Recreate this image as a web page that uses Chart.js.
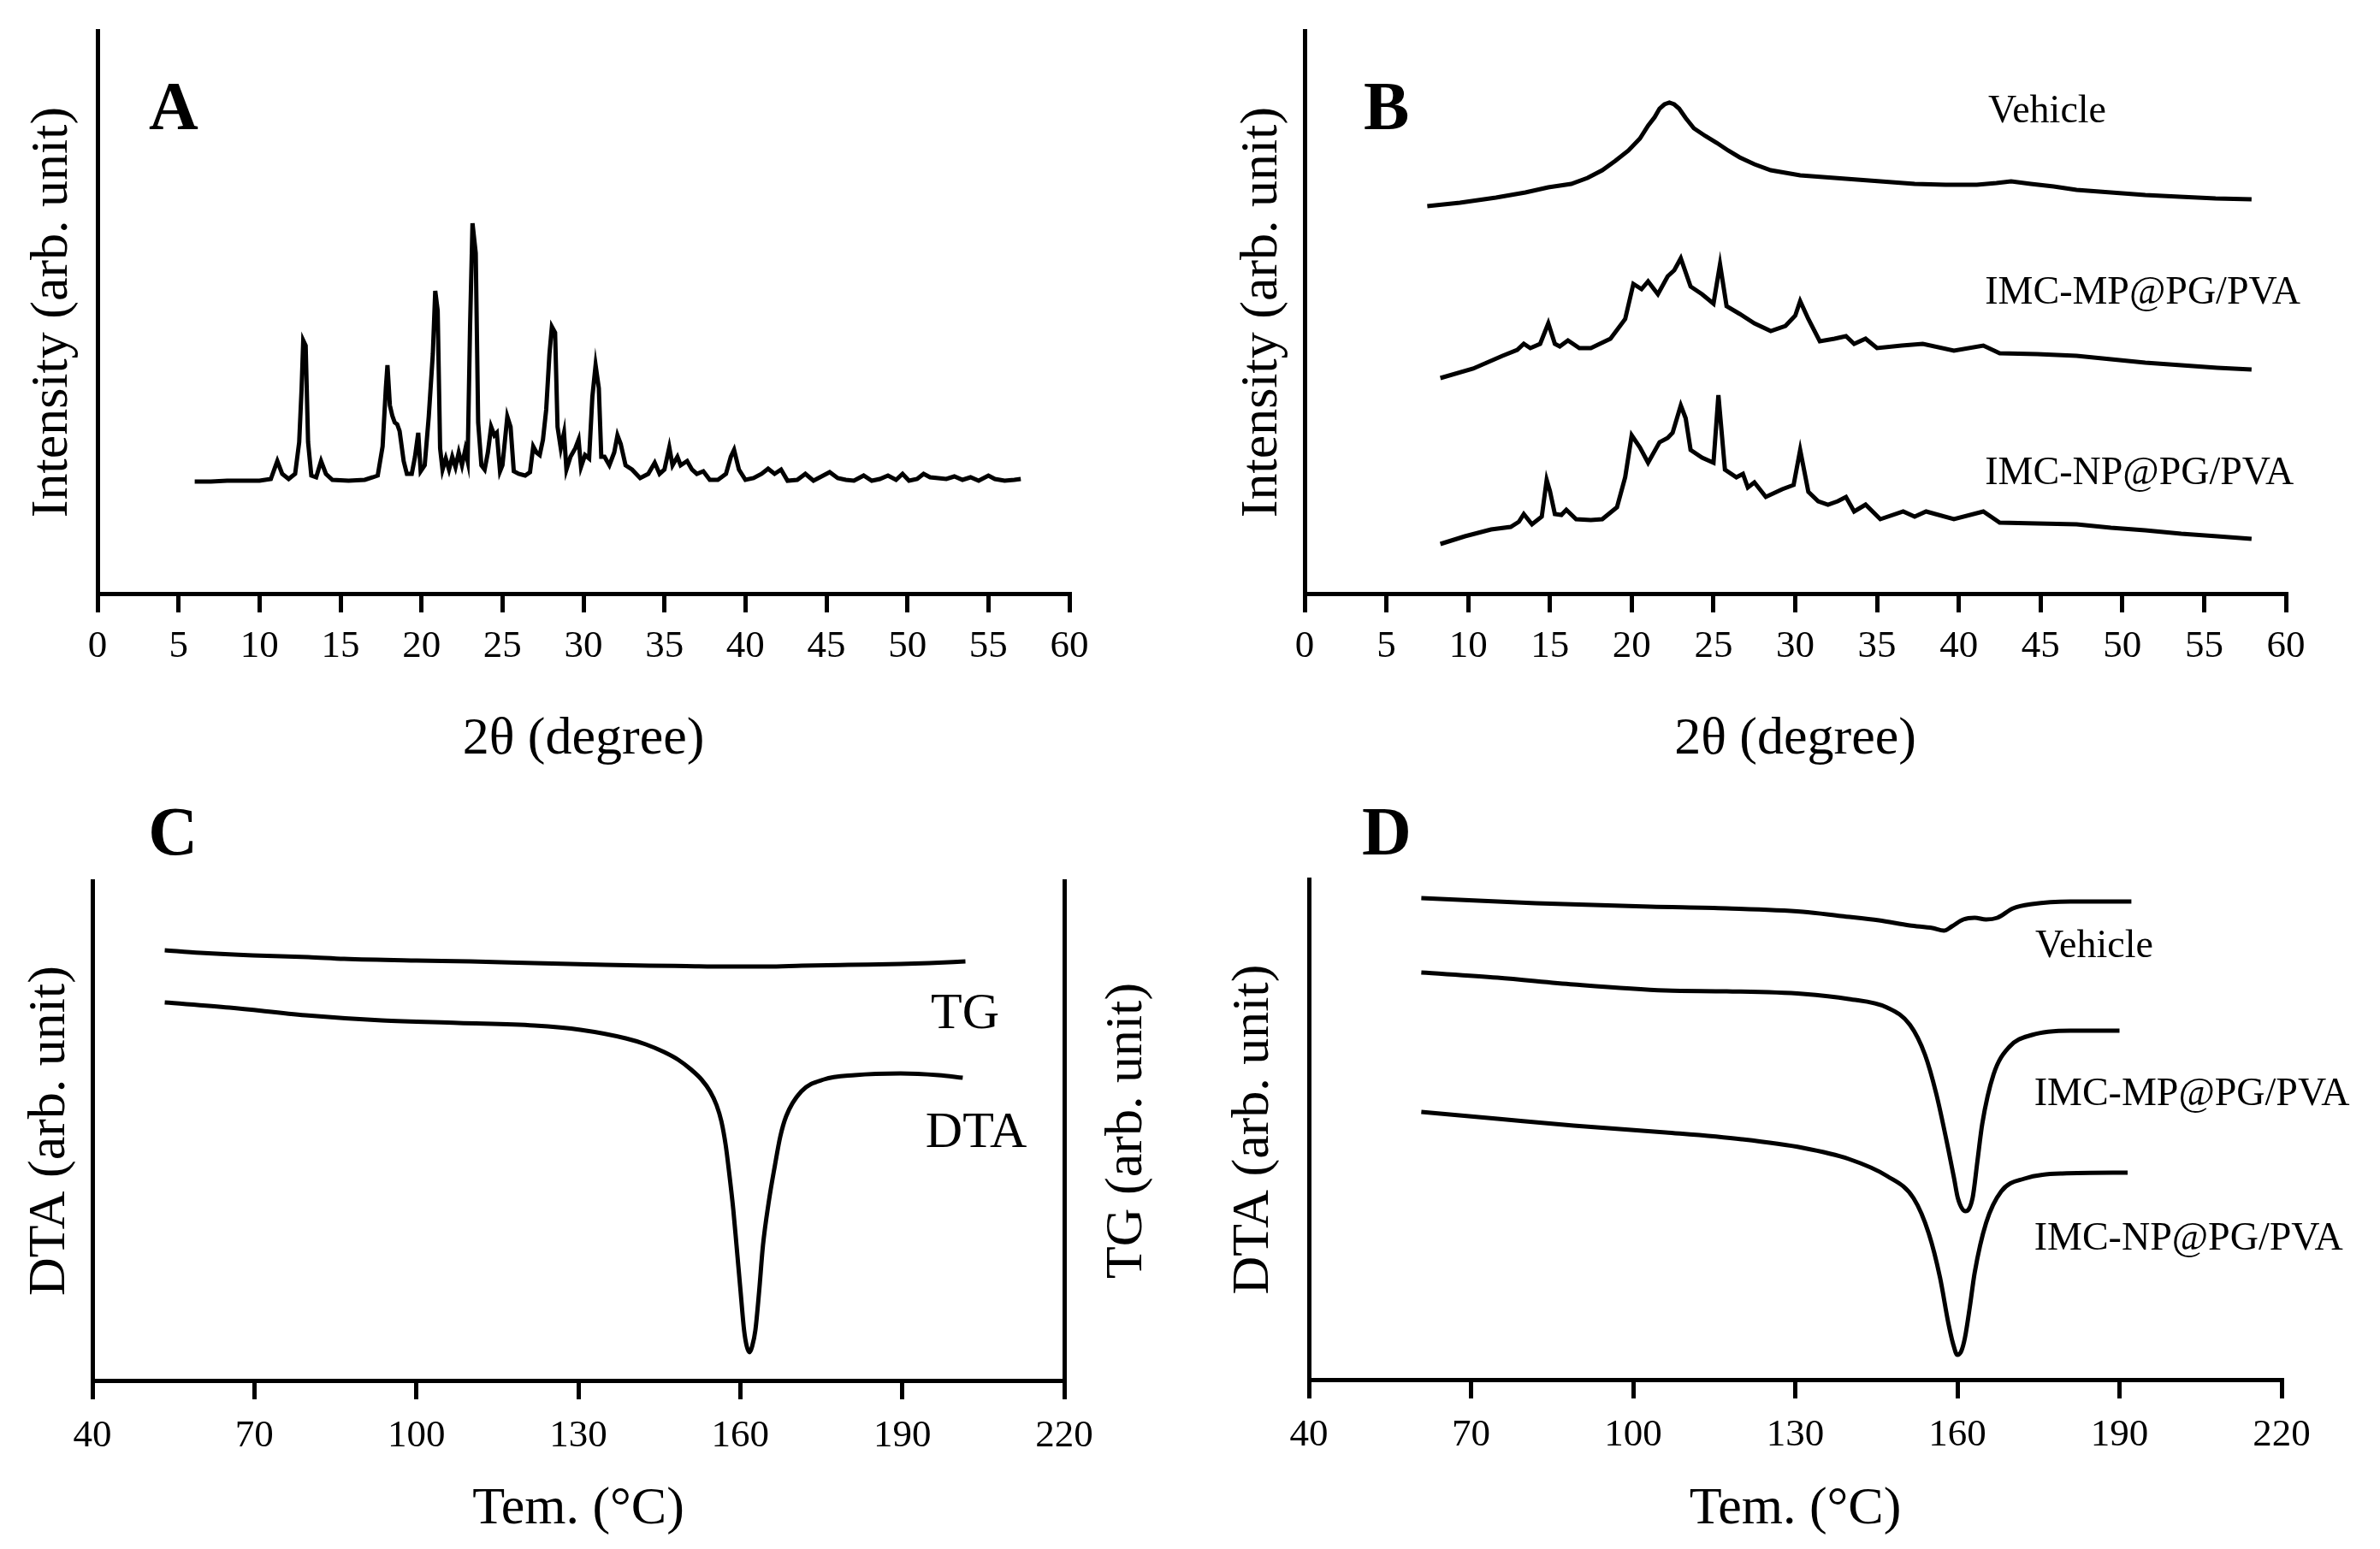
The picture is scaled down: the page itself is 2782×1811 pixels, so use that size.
<!DOCTYPE html>
<html>
<head>
<meta charset="utf-8">
<script src="https://cdn.jsdelivr.net/npm/chart.js@4.4.1/dist/chart.umd.min.js"></script>
<style>
  html, body { margin: 0; padding: 0; background: #fff; }
  body { width: 2782px; height: 1811px; position: relative; overflow: hidden; }
  .panel { position: absolute; width: 1391px; }
  #boxA { left: 0; top: 0; height: 905px; }
  #boxB { left: 1391px; top: 0; height: 905px; }
  #boxC { left: 0; top: 905px; height: 906px; }
  #boxD { left: 1391px; top: 905px; height: 906px; }
</style>
</head>
<body>
<div class="panel" id="boxA"><canvas id="chartA"></canvas></div>
<div class="panel" id="boxB"><canvas id="chartB"></canvas></div>
<div class="panel" id="boxC"><canvas id="chartC"></canvas></div>
<div class="panel" id="boxD"><canvas id="chartD"></canvas></div>
<script>
// ===== DATA =====
// A: XRD of IMC raw powder (2θ in degrees, intensity in arb. units)
const aAngle = [
  6.0, 7.0, 8.0, 9.0, 10.0, 10.7, 11.1, 11.4, 11.8, 12.2,
  12.45, 12.6, 12.7, 12.85, 13.0, 13.2, 13.5, 13.8, 14.1, 14.5,
  15.5, 16.5, 17.0, 17.3, 17.6, 17.8, 17.9, 18.05, 18.2, 18.35,
  18.5, 18.65, 18.9, 19.1, 19.4, 19.6, 19.8, 19.95, 20.2, 20.45,
  20.7, 20.85, 21.0, 21.15, 21.3, 21.5, 21.7, 21.9, 22.1, 22.3,
  22.5, 22.7, 22.85, 23.0, 23.15, 23.35, 23.5, 23.7, 23.9, 24.1,
  24.3, 24.5, 24.65, 24.85, 25.0, 25.3, 25.5, 25.7, 26.0, 26.4,
  26.7, 26.9, 27.1, 27.3, 27.5, 27.7, 27.9, 28.05, 28.25, 28.4,
  28.6, 28.8, 28.95, 29.2, 29.5, 29.7, 29.85, 30.1, 30.35, 30.55,
  30.75, 30.95, 31.1, 31.3, 31.6, 31.9, 32.1, 32.3, 32.6, 33.0,
  33.5, 34.0, 34.4, 34.7, 35.0, 35.3, 35.5, 35.8, 36.0, 36.4,
  36.7, 37.0, 37.4, 37.8, 38.3, 38.8, 39.1, 39.3, 39.6, 40.0,
  40.5, 41.0, 41.4, 41.8, 42.2, 42.6, 43.2, 43.7, 44.2, 44.8,
  45.2, 45.7, 46.2, 46.7, 47.3, 47.8, 48.3, 48.8, 49.3, 49.7,
  50.1, 50.6, 51.0, 51.4, 51.9, 52.4, 52.9, 53.4, 53.9, 54.4,
  55.0, 55.4, 56.0, 56.6, 57.0
];
const aIntensity = [
  131, 131, 132, 132, 132, 134, 155, 140, 134, 140,
  177, 240, 296, 290, 177, 138, 136, 155, 140, 133,
  132, 133, 136, 138, 172, 240, 267, 220, 208, 200,
  198, 190, 155, 140, 140, 160, 188, 143, 150, 207,
  280, 354, 331, 170, 145, 158, 145, 160, 148, 165,
  150, 168, 155, 312, 433, 398, 200, 150, 145, 165,
  195, 185, 188, 143, 150, 207, 195, 143, 140, 138,
  142, 172, 165, 162, 180, 215, 280, 312, 305, 195,
  170, 188, 145, 160, 170, 180, 148, 162, 158, 230,
  267, 240, 160, 160, 150, 165, 185, 175, 150, 145,
  135, 140, 153, 140, 145, 171, 150, 160, 150, 155,
  145, 140, 143, 133, 133, 140, 160, 168, 145, 133,
  135, 140, 146, 140, 145, 132, 133, 140, 132, 138,
  142, 135, 133, 132, 138, 132, 134, 138, 133, 140,
  132, 134, 140, 136, 135, 134, 137, 133, 136, 132,
  138, 134, 132, 133, 134
];

// B: XRD of vehicle and formulations
const bVehicleAngle = [7.5, 9.5, 11.7, 13.5, 14.9, 16.3, 17.3, 18.2, 19.0, 19.8, 20.5, 21.0, 21.4, 21.7, 22.0,
  22.3, 22.6, 22.9, 23.3, 23.8, 24.5, 25.2, 25.9, 26.6, 27.5, 28.5, 29.4, 30.3, 31.7, 33.1, 35.2, 37.3,
  39.2, 41.1, 42.3, 43.2, 44.4, 45.8, 47.2, 49.3, 51.4, 53.5, 55.7, 57.9];
const bVehicle = [453, 457, 463, 469, 475, 479, 486, 495, 506, 518, 532, 547, 557, 567, 572,
  574, 572, 567, 556, 544, 535, 527, 518, 510, 502, 495, 492, 489, 487, 485, 482, 479,
  478, 478, 480, 482, 479, 476, 472, 469, 466, 464, 462, 461];

const bMPAngle = [8.3, 10.3, 12.1, 13.0, 13.4, 13.8, 14.4, 14.9, 15.3, 15.6, 16.1, 16.8, 17.5, 18.7, 19.6,
  20.1, 20.6, 21.0, 21.6, 22.2, 22.6, 23.0, 23.6, 24.3, 25.0, 25.4, 25.8, 26.6, 27.5, 28.5,
  29.4, 30.0, 30.3, 30.8, 31.5, 32.4, 33.1, 33.6, 34.3, 35.0, 36.5, 37.8, 39.7, 41.5, 42.5,
  44.8, 47.2, 49.3, 51.4, 53.6, 55.8, 57.9];
const bMP = [252, 263, 278, 285, 292, 287, 292, 316, 292, 289, 296, 287, 287, 298, 321,
  362, 356, 365, 350, 371, 378, 392, 359, 350, 339, 385, 336, 327, 316, 307,
  313, 325, 342, 321, 295, 298, 301, 292, 298, 287, 290, 292, 284, 290, 281,
  280, 278, 274, 270, 267, 264, 262];

const bNPAngle = [8.3, 9.8, 11.4, 12.6, 13.1, 13.4, 13.9, 14.5, 14.8, 15.0,
  15.3, 15.7, 16.0, 16.6, 17.5, 18.2, 19.1, 19.6, 20.0, 20.5,
  21.0, 21.7, 22.2, 22.5, 23.0, 23.3, 23.6, 24.3, 25.0, 25.3,
  25.7, 26.4, 26.8, 27.1, 27.5, 28.2, 29.2, 29.9, 30.3, 30.8,
  31.4, 32.0, 32.6, 33.1, 33.6, 34.3, 35.2, 36.6, 37.3, 38.0,
  39.7, 41.5, 42.5, 44.8, 47.2, 49.3, 51.4, 53.6, 55.8, 57.9];
const bNP = [58, 67, 75, 78, 84, 93, 81, 90, 133, 120,
  93, 92, 98, 87, 86, 87, 101, 136, 185, 171,
  153, 177, 182, 188, 220, 205, 168, 159, 153, 232,
  145, 136, 140, 124, 130, 113, 122, 127, 168, 119,
  108, 104, 108, 113, 96, 104, 87, 96, 90, 96,
  87, 96, 83, 82, 81, 77, 74, 70, 67, 64];

// C: TG / DTA of IMC
const cTGTemp = [53.4, 60, 69.7, 80, 86.6, 100, 110, 121.9, 135, 143.1, 150, 157.2, 165, 171.4, 180, 189.7, 195, 201.7];
const cTG = [503, 500, 497, 495, 493, 491, 490, 488, 486, 485, 484.5, 484, 484, 485, 486, 487, 488, 490];
const cDTATemp = [53.4, 65.4, 79.5, 93.6, 107.8, 121.9, 130.4, 138.8, 142.5, 145.9,
  148.5, 150.8, 152.8, 154.4, 155.6, 156.5, 157.3, 157.9, 158.7, 159.3,
  160.0, 160.7, 161.2, 161.7, 162.2, 162.8, 163.5, 164.2, 165.3, 166.4,
  167.4, 168.5, 171.3, 175.5, 181.2, 189.7, 196.7, 201.2];
const cDTA = [442, 436, 427, 421, 418, 415, 410, 400, 393, 384,
  375, 364, 352, 338, 322, 303, 275, 245, 200, 158,
  108, 59, 40, 33, 40, 59, 105, 158, 210, 251,
  285, 309, 338, 352, 357, 359, 357, 354];

// D: DTA of vehicle and formulations
const dVehicleTemp = [60.8, 82.0, 103.2, 117.3, 131.4, 138.5, 145.5, 151.2, 155.4, 157.5, 159.0, 161.1, 163.2, 165.3, 167.4, 170.3, 173.8, 180.9, 192.2];
const dVehicle = [563, 557, 553, 551, 547, 542, 537, 531, 528, 525, 530, 538, 540, 538, 540, 551, 556, 559, 559];
const dMPTemp = [60.8, 74.9, 89.0, 106.0, 117.3, 131.4, 139.9, 147.0, 151.2, 154.0, 156.1, 158.3, 159.4, 160.1, 161.5, 162.8, 163.7, 164.6, 166.7, 169.6, 173.8, 180.9, 190.0];
const dMP = [476, 470, 462, 455, 454, 451, 445, 435, 415, 380, 334, 270, 235, 212, 197, 212, 255, 299, 357, 389, 403, 408, 408];
const dNPTemp = [60.8, 74.9, 89.0, 106.0, 120.1, 131.4, 139.9, 147.0, 151.9, 154.7, 156.8, 158.3, 159.2, 160.0, 160.7, 161.4, 162.3, 163.2, 165.3, 168.1, 172.4, 179.4, 191.5];
const dNP = [313, 305, 297, 289, 281, 271, 258, 238, 212, 171, 119, 67, 42, 29, 33, 49, 85, 125, 183, 220, 235, 241, 242];

// ===== HELPERS =====
const SERIF = '"Liberation Serif", "Times New Roman", serif';
const pts = (xs, ys) => xs.map((x, i) => ({ x, y: ys[i] }));

function line(xs, ys, smooth, axis) {
  return {
    data: pts(xs, ys), yAxisID: axis || 'y',
    borderColor: '#000', borderWidth: 5, pointRadius: 0, fill: false,
    tension: smooth ? 0.4 : 0, cubicInterpolationMode: smooth ? 'monotone' : 'default'
  };
}

function xAxis(min, max, step, title, h, tickPad, titlePad) {
  return {
    type: 'linear', position: 'bottom', min, max,
    afterFit: s => { s.height = h; },
    ticks: { stepSize: step, color: '#000', font: { family: SERIF, size: 45 }, padding: tickPad, maxRotation: 0, autoSkip: false },
    grid: { drawOnChartArea: false, drawTicks: true, tickLength: 22, color: '#000', lineWidth: 5 },
    border: { display: true, color: '#000', width: 5 },
    title: { display: true, text: title, color: '#000', font: { family: SERIF, size: 62 }, padding: { top: 0, bottom: titlePad } }
  };
}

function yAxis(max, w, title, pad) {
  return {
    type: 'linear', position: 'left', min: 0, max,
    afterFit: s => { s.width = w; },
    ticks: { display: false }, grid: { display: false },
    border: { display: true, color: '#000', width: 5 },
    title: { display: true, text: title, color: '#000', font: { family: SERIF, size: 62 }, padding: { top: pad, bottom: 0 } }
  };
}

// panel letters, curve labels and the right-hand TG title
const panelText = {
  id: 'panelText',
  afterDraw(chart, args, opts) {
    const { ctx, scales } = chart;
    ctx.save();
    ctx.fillStyle = '#000';
    ctx.textBaseline = 'middle';
    (opts.items || []).forEach(t => {
      ctx.font = t.font;
      ctx.textAlign = t.align || 'left';
      ctx.fillText(t.text, scales.x.getPixelForValue(t.x), scales.y.getPixelForValue(t.y));
    });
    if (opts.rightTitle) {
      const a = chart.chartArea;
      ctx.translate(a.right + opts.rightTitle.offset, (a.top + a.bottom) / 2);
      ctx.rotate(-Math.PI / 2);
      ctx.textAlign = 'center';
      ctx.font = '62px ' + SERIF;
      ctx.fillText(opts.rightTitle.text, 0, 0);
    }
    ctx.restore();
  }
};

const LETTER = 'bold 80px ' + SERIF;
const LABEL = '46px ' + SERIF;
const BIG = '60px ' + SERIF;

function makeChart(id, datasets, scales, padding, text) {
  new Chart(document.getElementById(id), {
    type: 'line',
    data: { datasets },
    options: {
      responsive: true, maintainAspectRatio: false, animation: false,
      layout: { padding },
      plugins: { legend: { display: false }, tooltip: { enabled: false }, panelText: text },
      scales
    },
    plugins: [panelText]
  });
}

// ===== CHARTS =====
makeChart('chartA',
  [line(aAngle, aIntensity, false)],
  { x: xAxis(0, 60, 5, '2θ (degree)', 211, 13, 3), y: yAxis(658, 114, 'Intensity (arb. unit)', 25) },
  { left: 0, top: 36, right: 141, bottom: 0 },
  { items: [{ text: 'A', x: 4.7, y: 564, font: LETTER, align: 'center' }] });

makeChart('chartB',
  [line(bVehicleAngle, bVehicle, false), line(bMPAngle, bMP, false), line(bNPAngle, bNP, false)],
  { x: xAxis(0, 60, 5, '2θ (degree)', 211, 13, 3), y: yAxis(658, 134, 'Intensity (arb. unit)', 48) },
  { left: 0, top: 36, right: 110, bottom: 0 },
  { items: [
    { text: 'B', x: 5.0, y: 564, font: LETTER, align: 'center' },
    { text: 'Vehicle', x: 41.8, y: 563, font: LABEL },
    { text: 'IMC-MP@PG/PVA', x: 41.6, y: 351, font: LABEL },
    { text: 'IMC-NP@PG/PVA', x: 41.6, y: 140, font: LABEL }
  ] });

const yRight = {
  type: 'linear', position: 'right', min: 0, max: 584,
  afterFit: s => { s.width = 1; },
  ticks: { display: false }, grid: { display: false },
  border: { display: true, color: '#000', width: 5 }
};

makeChart('chartC',
  [line(cTGTemp, cTG, true, 'y2'), line(cDTATemp, cDTA, true)],
  { x: xAxis(40, 220, 30, 'Tem. (°C)', 197, 16, 9), y: yAxis(584, 108, 'DTA (arb. unit)', 22), y2: yRight },
  { left: 0, top: 125, right: 146, bottom: 0 },
  { items: [
    { text: 'C', x: 54.9, y: 636, font: LETTER, align: 'center' },
    { text: 'TG', x: 195.3, y: 428, font: BIG },
    { text: 'DTA', x: 194.3, y: 289, font: BIG }
  ], rightTitle: { text: 'TG (arb. unit)', offset: 74 } });

makeChart('chartD',
  [line(dVehicleTemp, dVehicle, true), line(dMPTemp, dMP, true), line(dNPTemp, dNP, true)],
  { x: xAxis(40, 220, 30, 'Tem. (°C)', 198, 16, 9), y: yAxis(585, 139, 'DTA (arb. unit)', 38) },
  { left: 0, top: 123, right: 115, bottom: 0 },
  { items: [
    { text: 'D', x: 54.4, y: 635, font: LETTER, align: 'center' },
    { text: 'Vehicle', x: 174.4, y: 506, font: LABEL },
    { text: 'IMC-MP@PG/PVA', x: 174.2, y: 333, font: LABEL },
    { text: 'IMC-NP@PG/PVA', x: 174.2, y: 164, font: LABEL }
  ] });
</script>
</body>
</html>
